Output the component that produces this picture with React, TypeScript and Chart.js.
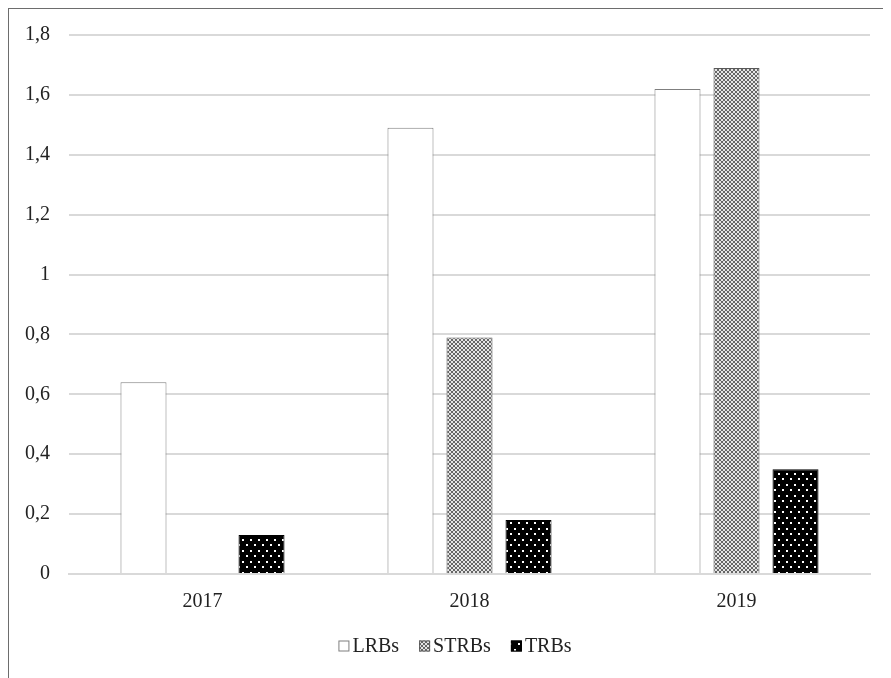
import React, { useEffect, useRef } from "react";
import { Chart, registerables } from "chart.js";

Chart.register(...registerables);

const categories = ["2017", "2018", "2019"];
const seriesNames = ["LRBs", "STRBs", "TRBs"];
const lrbs = [0.64, 1.49, 1.62];
const strbs = [0, 0.79, 1.69];
const trbs = [0.13, 0.18, 0.35];
const yTicks = [0, 0.2, 0.4, 0.6, 0.8, 1, 1.2, 1.4, 1.6, 1.8];

const FONT = "'Liberation Serif', 'Times New Roman', serif";

function checkerPattern(ctx: CanvasRenderingContext2D) {
  const c = document.createElement("canvas");
  c.width = 4;
  c.height = 4;
  const g = c.getContext("2d")!;
  g.fillStyle = "#e6e6e6";
  g.fillRect(0, 0, 4, 4);
  g.fillStyle = "#666666";
  g.fillRect(0, 0, 2, 2);
  g.fillRect(2, 2, 2, 2);
  return ctx.createPattern(c, "repeat")!;
}

function dotPattern(ctx: CanvasRenderingContext2D) {
  const c = document.createElement("canvas");
  c.width = 8;
  c.height = 11;
  const g = c.getContext("2d")!;
  g.fillStyle = "#000000";
  g.fillRect(0, 0, 8, 11);
  g.fillStyle = "#ffffff";
  g.fillRect(1, 2, 2, 2);
  g.fillRect(5, 7, 2, 2);
  return ctx.createPattern(c, "repeat")!;
}

export default function App() {
  const ref = useRef<HTMLCanvasElement>(null);

  useEffect(() => {
    const canvas = ref.current!;
    const ctx = canvas.getContext("2d")!;
    const checker = checkerPattern(ctx);
    const dots = dotPattern(ctx);
    const fills = ["#ffffff", checker, dots];
    const borders = ["#7f7f7f", "#595959", "#000000"];
    const values = [lrbs, strbs, trbs];

    const legendPlugin = {
      id: "customLegend",
      afterDraw(chart: any) {
        const c = chart.ctx as CanvasRenderingContext2D;
        c.save();
        c.font = `20px ${FONT}`;
        c.textBaseline = "middle";
        const box = 11;
        const gap = 3;
        const spacing = 20;
        const widths = seriesNames.map((n) => box + gap + c.measureText(n).width);
        const total = widths.reduce((a, b) => a + b, 0) + spacing * (widths.length - 1);
        let x = 446 - total / 2;
        const y = 637;
        seriesNames.forEach((n, i) => {
          c.fillStyle = fills[i] as any;
          c.fillRect(x, y - box / 2, box, box);
          c.strokeStyle = borders[i];
          c.lineWidth = 1;
          c.strokeRect(x + 0.5, y - box / 2 + 0.5, box - 1, box - 1);
          c.fillStyle = "#222222";
          c.fillText(n, x + box + gap, y + 1);
          x += widths[i] + spacing;
        });
        c.restore();
      },
    };

    const chart = new Chart(canvas, {
      type: "bar",
      data: {
        labels: categories,
        datasets: seriesNames.map((name, i) => ({
          label: name,
          data: values[i],
          backgroundColor: fills[i] as any,
          borderColor: borders[i],
          borderWidth: 1,
          categoryPercentage: 0.663,
          barPercentage: 0.78,
        })),
      },
      options: {
        responsive: false,
        animation: false,
        events: [],
        layout: { padding: { left: 0, right: 21, top: 26, bottom: 52 } },
        plugins: {
          legend: { display: false },
          tooltip: { enabled: false },
        },
        scales: {
          x: {
            grid: { display: false, drawTicks: false },
            border: { display: true, color: "#d9d9d9", width: 2 },
            ticks: {
              color: "#222222",
              font: { family: FONT, size: 20 },
              padding: 16,
            },
            afterFit(scale: any) {
              scale.height = 52;
              scale.paddingLeft = 0;
              scale.paddingRight = 0;
            },
          },
          y: {
            min: 0,
            max: 1.8,
            afterBuildTicks(scale: any) {
              scale.ticks = yTicks.map((v) => ({ value: v }));
            },
            grid: { color: "#d9d9d9", lineWidth: 2, drawTicks: false },
            border: { display: false },
            ticks: {
              color: "#222222",
              font: { family: FONT, size: 20 },
              padding: 19,
              callback: (v: any) => String(Math.round(Number(v) * 10) / 10).replace(".", ","),
            },
            afterFit(scale: any) {
              scale.width = 60;
              scale.paddingTop = 0;
              scale.paddingBottom = 0;
            },
          },
        },
      },
      plugins: [legendPlugin],
    });
    return () => chart.destroy();
  }, []);

  return (
    <div
      style={{
        marginLeft: -1,
        marginTop: -1,
        width: 884,
        height: 671,
        boxSizing: "border-box",
        borderTop: "2px solid #6d6d6d",
        borderLeft: "2px solid #6d6d6d",
        background: "#fff",
        overflow: "hidden",
      }}
    >
      <canvas ref={ref} width={882} height={669} style={{ display: "block" }} />
    </div>
  );
}
